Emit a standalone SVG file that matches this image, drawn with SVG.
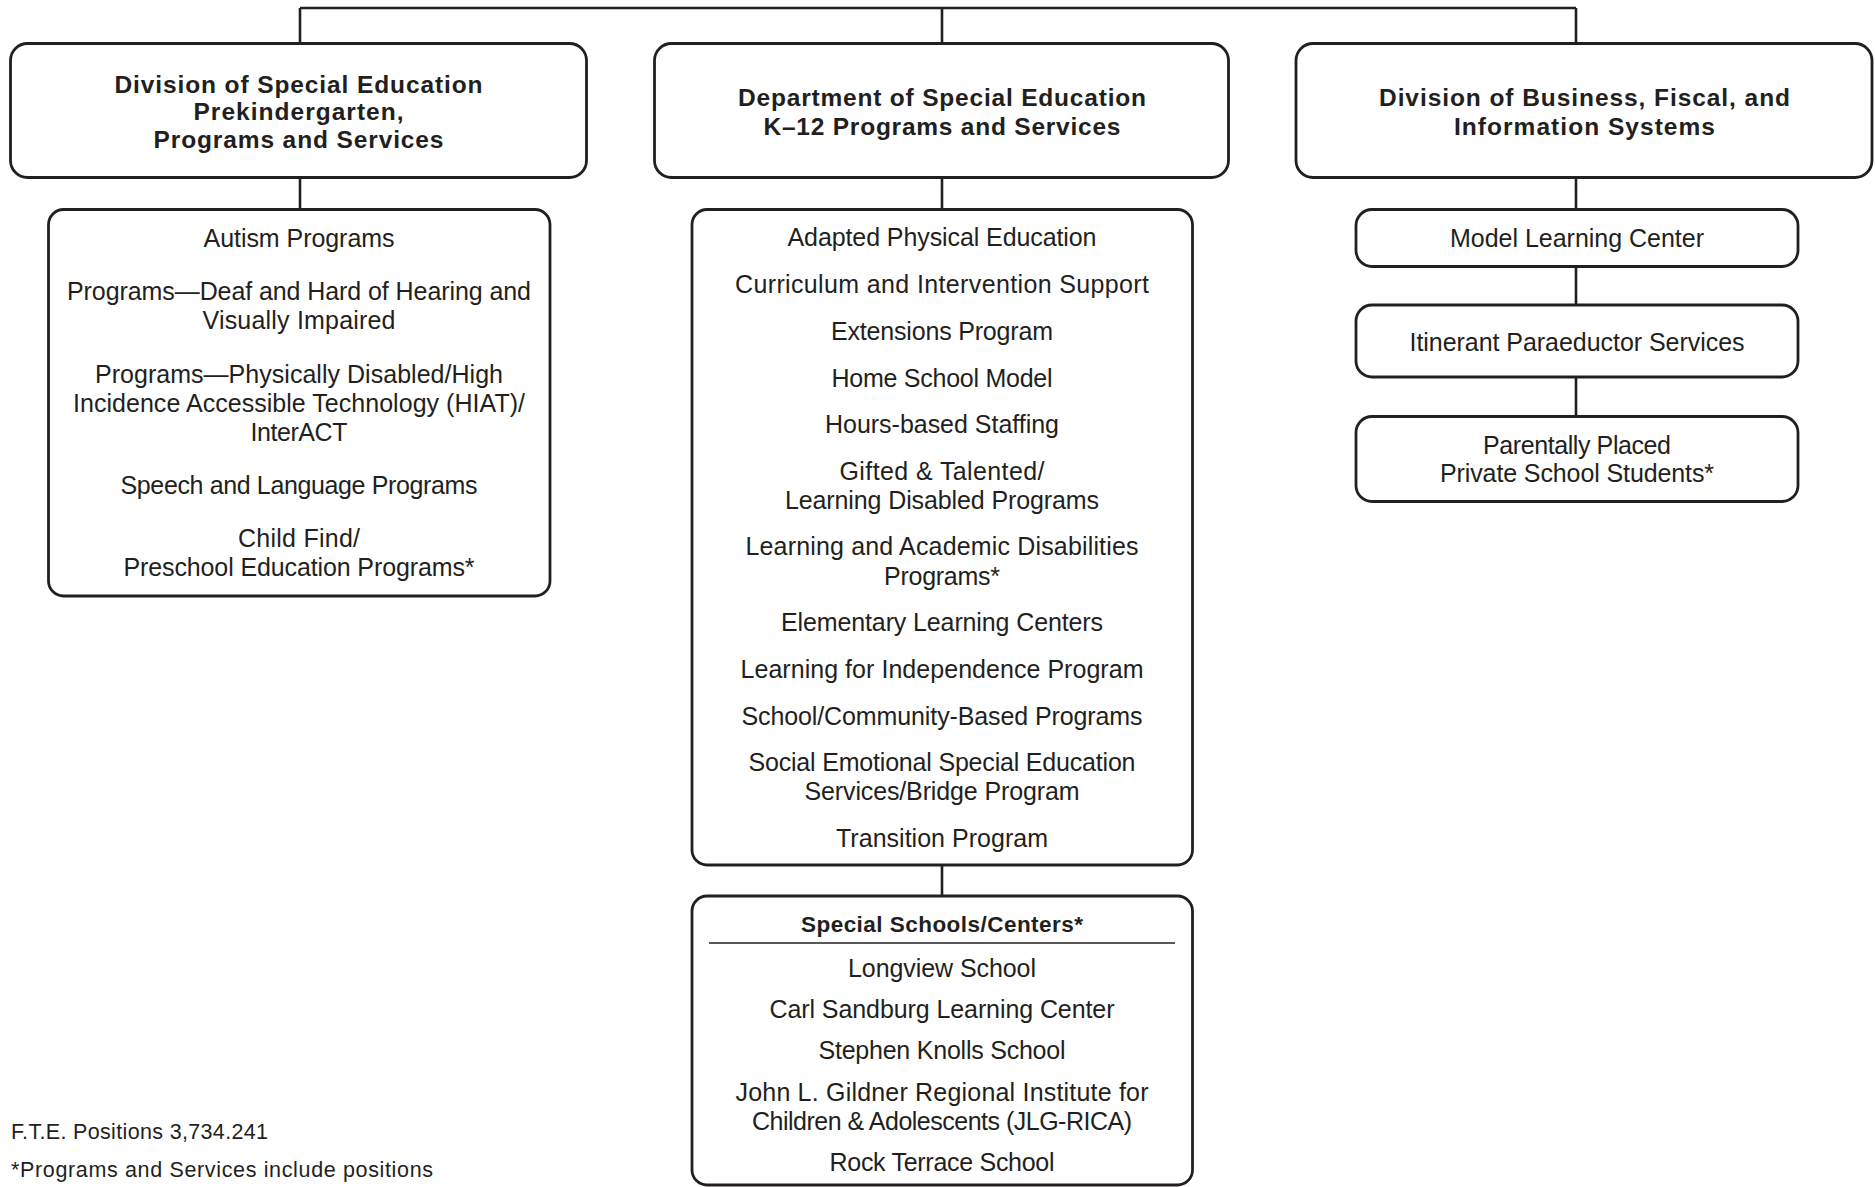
<svg xmlns="http://www.w3.org/2000/svg" width="1875" height="1187" viewBox="0 0 1875 1187">
<style>
.bx{fill:#fff;stroke:#231f20;stroke-width:2.8}
.cn{fill:none;stroke:#231f20;stroke-width:2.6}
.t{font-family:"Liberation Sans",Arial,sans-serif;font-size:25px;fill:#231f20;text-anchor:middle}
.h{font-family:"Liberation Sans",Arial,sans-serif;font-size:24.5px;font-weight:bold;fill:#231f20;text-anchor:middle}
.f{font-family:"Liberation Sans",Arial,sans-serif;font-size:21.5px;fill:#231f20}
</style>
<rect width="1875" height="1187" fill="#fff"/>
<g id="connectors" class="cn">
<path d="M300,8 H1576 M300,8 V44 M942,8 V44 M1576,8 V44"/>
<path d="M300,177 V209"/>
<path d="M942,177 V209"/>
<path d="M942,865 V896"/>
<path d="M1576,177 V209 M1576,267 V305 M1576,377 V417"/>
</g>
<g id="div-prek">
<rect class="bx" x="10.5" y="43.5" width="576" height="134" rx="17"/>
<text class="h" x="298.5" y="92.5" textLength="368">Division of Special Education</text>
<text class="h" x="298.5" y="120" textLength="210">Prekindergarten,</text>
<text class="h" x="298.5" y="147.5" textLength="290">Programs and Services</text>
</g>
<g id="dept-k12">
<rect class="bx" x="654.5" y="43.5" width="574" height="134" rx="17"/>
<text class="h" x="942" y="106" textLength="408">Department of Special Education</text>
<text class="h" x="942" y="134.5" textLength="357">K–12 Programs and Services</text>
</g>
<g id="div-business">
<rect class="bx" x="1296" y="43.5" width="576" height="134" rx="17"/>
<text class="h" x="1584.5" y="106" textLength="411">Division of Business, Fiscal, and</text>
<text class="h" x="1584.5" y="134.5" textLength="261">Information Systems</text>
</g>
<g id="prek-programs">
<rect class="bx" x="48.5" y="209.5" width="501.5" height="386.5" rx="15"/>
<text class="t" x="299" y="246.5" textLength="191">Autism Programs</text>
<text class="t" x="299" y="300" textLength="464">Programs—Deaf and Hard of Hearing and</text>
<text class="t" x="299" y="328.5" textLength="193">Visually Impaired</text>
<text class="t" x="299" y="382.5" textLength="408">Programs—Physically Disabled/High</text>
<text class="t" x="299" y="411.5" textLength="452">Incidence Accessible Technology (HIAT)/</text>
<text class="t" x="299" y="440.5" textLength="97">InterACT</text>
<text class="t" x="299" y="494" textLength="357">Speech and Language Programs</text>
<text class="t" x="299" y="546.5" textLength="122">Child Find/</text>
<text class="t" x="299" y="576" textLength="351">Preschool Education Programs*</text>
</g>
<g id="k12-programs">
<rect class="bx" x="692" y="209.5" width="500.5" height="655.5" rx="15"/>
<text class="t" x="942" y="246" textLength="309">Adapted Physical Education</text>
<text class="t" x="942" y="293" textLength="414">Curriculum and Intervention Support</text>
<text class="t" x="942" y="339.5" textLength="222">Extensions Program</text>
<text class="t" x="942" y="386.5" textLength="221">Home School Model</text>
<text class="t" x="942" y="433" textLength="234">Hours-based Staffing</text>
<text class="t" x="942" y="479.5" textLength="205">Gifted &amp; Talented/</text>
<text class="t" x="942" y="509" textLength="314">Learning Disabled Programs</text>
<text class="t" x="942" y="555" textLength="393">Learning and Academic Disabilities</text>
<text class="t" x="942" y="584.5" textLength="116">Programs*</text>
<text class="t" x="942" y="631" textLength="322">Elementary Learning Centers</text>
<text class="t" x="942" y="678" textLength="403">Learning for Independence Program</text>
<text class="t" x="942" y="724.5" textLength="401">School/Community-Based Programs</text>
<text class="t" x="942" y="771" textLength="387">Social Emotional Special Education</text>
<text class="t" x="942" y="800" textLength="275">Services/Bridge Program</text>
<text class="t" x="942" y="847" textLength="212">Transition Program</text>
</g>
<g id="special-schools">
<rect class="bx" x="692" y="896" width="500.5" height="289" rx="15"/>
<text class="h" x="942" y="931.5" style="font-size:22.5px" textLength="282">Special Schools/Centers*</text>
<line x1="709" y1="943" x2="1175" y2="943" stroke="#231f20" stroke-width="1.6"/>
<text class="t" x="942" y="976.5" textLength="188">Longview School</text>
<text class="t" x="942" y="1017.5" textLength="345">Carl Sandburg Learning Center</text>
<text class="t" x="942" y="1058.5" textLength="247">Stephen Knolls School</text>
<text class="t" x="942" y="1101" textLength="413">John L. Gildner Regional Institute for</text>
<text class="t" x="942" y="1129.5" textLength="380">Children &amp; Adolescents (JLG-RICA)</text>
<text class="t" x="942" y="1170.5" textLength="225">Rock Terrace School</text>
</g>
<g id="model-learning">
<rect class="bx" x="1356" y="209.5" width="442" height="57" rx="16"/>
<text class="t" x="1577" y="246.5" textLength="254">Model Learning Center</text>
</g>
<g id="itinerant">
<rect class="bx" x="1356" y="305" width="442" height="72" rx="16"/>
<text class="t" x="1577" y="351" textLength="335">Itinerant Paraeductor Services</text>
</g>
<g id="parental">
<rect class="bx" x="1356" y="416.5" width="442" height="85" rx="16"/>
<text class="t" x="1577" y="453.5" textLength="188">Parentally Placed</text>
<text class="t" x="1577" y="482" textLength="274">Private School Students*</text>
</g>
<g id="footnotes">
<text class="f" x="11" y="1139" textLength="257">F.T.E. Positions 3,734.241</text>
<text class="f" x="11" y="1177" textLength="422">*Programs and Services include positions</text>
</g>
</svg>
